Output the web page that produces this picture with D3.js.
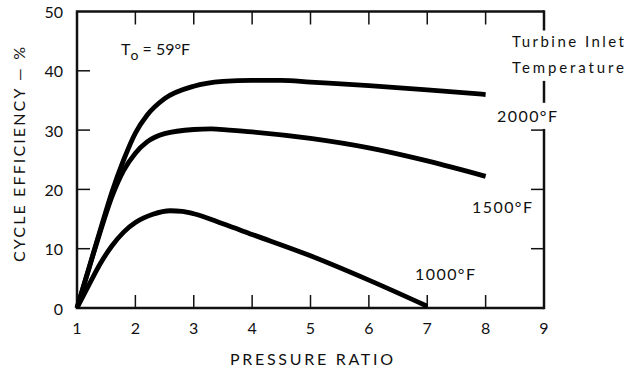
<!DOCTYPE html>
<html>
<head>
<meta charset="utf-8">
<script src="https://cdn.jsdelivr.net/npm/d3@7"></script>
<style>
  body { margin: 0; background: #fff; }
  text { font-family: Lato, "Open Sans", sans-serif; fill: #111; }
</style>
</head>
<body>
<svg id="chart" width="626" height="372"></svg>
<script>
// pressure ratio vs cycle efficiency (%)
const ratio2000 = [1, 1.2, 1.4, 1.6, 1.8, 2, 2.2, 2.5, 3, 3.5, 4, 4.5, 5, 6, 7, 8]
const eff2000   = [0, 6.6, 13.2, 19.6, 25, 29.5, 32.5, 35.3, 37.4, 38.2, 38.4, 38.4, 38.1, 37.5, 36.8, 36]

const ratio1500 = [1, 1.2, 1.4, 1.6, 1.8, 2, 2.2, 2.5, 3, 3.3, 3.6, 4, 5, 6, 7, 8]
const eff1500   = [0, 6.5, 12.9, 18.8, 23.2, 26.1, 28, 29.4, 30.1, 30.2, 30.0, 29.7, 28.6, 27, 24.8, 22.2]

const ratio1000 = [1, 1.2, 1.4, 1.6, 1.8, 2, 2.3, 2.6, 2.8, 3, 3.5, 4, 5, 6, 7]
const eff1000   = [0, 3.8, 7.5, 10.5, 12.8, 14.4, 15.8, 16.4, 16.3, 15.9, 14.2, 12.4, 8.8, 4.7, 0.3]

const xTicks = [1, 2, 3, 4, 5, 6, 7, 8, 9]
const yTicks = [0, 10, 20, 30, 40, 50]
const curveLabels = ["2000°F", "1500°F", "1000°F"]

const svg = d3.select("#chart")

const x = d3.scaleLinear().domain([1, 9]).range([77, 544])
const y = d3.scaleLinear().domain([0, 50]).range([308, 11.5])

const frame = svg.append("g")
    .attr("stroke", "#111")
    .attr("fill", "none")

// left, bottom, top borders
frame.append("path")
    .attr("stroke-width", 2.5)
    .attr("d", `M${x(9)},${y(50)} H${x(1)} V${y(0)} H${x(9)}`)

// right border is broken where the labels sit
const rightSegs = [[50, 46.8], [38.3, 34.6], [30.2, 0]]
rightSegs.forEach(s => {
  frame.append("line")
      .attr("stroke-width", 2.5)
      .attr("x1", x(9)).attr("x2", x(9))
      .attr("y1", y(s[0]) - (s[0] == 50 ? 1.2 : 0))
      .attr("y2", y(s[1]) + (s[1] == 0 ? 1.2 : 0))
})

// inward ticks
const tickLen = 13
xTicks.slice(1, -1).forEach(t => {
  frame.append("line").attr("stroke-width", 1.5)
      .attr("x1", x(t)).attr("x2", x(t))
      .attr("y1", y(0)).attr("y2", y(0) - tickLen)
  frame.append("line").attr("stroke-width", 1.5)
      .attr("x1", x(t)).attr("x2", x(t))
      .attr("y1", y(50)).attr("y2", y(50) + tickLen)
})
yTicks.slice(1, -1).forEach(t => {
  frame.append("line").attr("stroke-width", 1.5)
      .attr("x1", x(1)).attr("x2", x(1) + tickLen)
      .attr("y1", y(t)).attr("y2", y(t))
  if (t < 40) {
    frame.append("line").attr("stroke-width", 1.5)
        .attr("x1", x(9)).attr("x2", x(9) - tickLen)
        .attr("y1", y(t)).attr("y2", y(t))
  }
})

// tick labels
svg.selectAll(".xl").data(xTicks).join("text")
    .attr("class", "xl")
    .attr("x", d => x(d))
    .attr("y", 334)
    .attr("text-anchor", "middle")
    .style("font-size", "16px")
    .text(d => d)

svg.selectAll(".yl").data(yTicks).join("text")
    .attr("class", "yl")
    .attr("x", 63)
    .attr("y", d => y(d) + 6.5)
    .attr("text-anchor", "end")
    .style("font-size", "16px")
    .text(d => d)

// axis titles
svg.append("text")
    .attr("x", 230).attr("y", 365)
    .attr("textLength", 163).attr("lengthAdjust", "spacing")
    .style("font-size", "16px")
    .text("PRESSURE RATIO")

svg.append("text")
    .attr("transform", "translate(25,262) rotate(-90)")
    .attr("textLength", 215).attr("lengthAdjust", "spacing")
    .style("font-size", "16px")
    .text("CYCLE EFFICIENCY — %")

// curves
const line = d3.line()
    .x(d => x(d[0]))
    .y(d => y(d[1]))
    .curve(d3.curveMonotoneX)

const series = [
  d3.zip(ratio2000, eff2000),
  d3.zip(ratio1500, eff1500),
  d3.zip(ratio1000, eff1000)
]

svg.selectAll(".curve").data(series).join("path")
    .attr("class", "curve")
    .attr("fill", "none")
    .attr("stroke", "#000")
    .attr("stroke-width", 4.8)
    .attr("d", line)

// annotations
const t0 = svg.append("text").attr("x", 121).attr("y", 55).style("font-size", "16px")
t0.append("tspan").text("T")
t0.append("tspan").attr("dy", 5).style("font-size", "14px").text("o")
t0.append("tspan").attr("dy", -5).text(" = 59°F")

svg.append("text")
    .attr("x", 512).attr("y", 47)
    .attr("textLength", 112).attr("lengthAdjust", "spacing")
    .style("font-size", "15px")
    .text("Turbine Inlet")
svg.append("text")
    .attr("x", 512).attr("y", 73)
    .attr("textLength", 112).attr("lengthAdjust", "spacing")
    .style("font-size", "15px")
    .text("Temperature")

const labelPos = [[497, 122], [472, 213], [415, 280]]
svg.selectAll(".cl").data(curveLabels).join("text")
    .attr("class", "cl")
    .attr("x", (d, i) => labelPos[i][0])
    .attr("y", (d, i) => labelPos[i][1])
    .attr("textLength", 60).attr("lengthAdjust", "spacing")
    .style("font-size", "16px")
    .text(d => d)
</script>
</body>
</html>
